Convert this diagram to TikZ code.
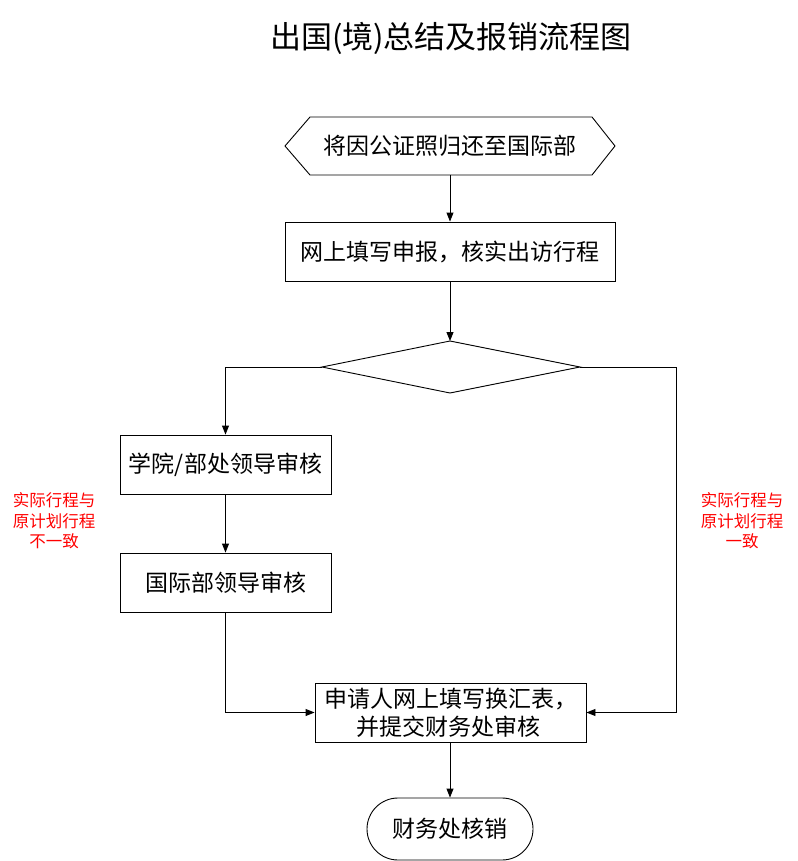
\documentclass[tikz,border=0pt]{standalone}
\usepackage{fontspec}
\setmainfont{Noto Sans CJK SC}
\usetikzlibrary{arrows.meta,shapes.geometric,shapes.misc}
\begin{document}
\begin{tikzpicture}[x=1pt,y=-1pt,
  line width=0.9pt,
  arr/.style={-{Triangle[length=9pt,width=7pt]}},
  procbox/.style={draw, minimum width=#1, minimum height=59pt, inner sep=0pt, font=\fontsize{23}{28}\selectfont},
  redlbl/.style={text=red, align=center, font=\fontsize{16.5}{20.5}\selectfont}
  ]
\useasboundingbox (0,0) rectangle (797,861);
\node[font=\fontsize{31}{36}\selectfont] (title) at (451,38) {出国(境)总结及报销流程图};
% hexagon
\coordinate (h1) at (285,146);
\coordinate (h2) at (310,117);
\coordinate (h3) at (592,117);
\coordinate (h4) at (615,146);
\coordinate (h5) at (592,175);
\coordinate (h6) at (310,175);
\draw (h1) -- (h2) -- (h3) -- (h4) -- (h5) -- (h6) -- cycle;
\node[font=\fontsize{23}{28}\selectfont] (hex) at (450,146) {将因公证照归还至国际部};
\coordinate (hexb) at (450,175);
% box2
\node[procbox=330pt] (b2) at (450,251.5) {网上填写申报，核实出访行程};
% diamond
\coordinate (dt) at (450,341);
\coordinate (dl) at (322,367);
\coordinate (dr) at (580,367);
\coordinate (db) at (450,393);
\draw (dt) -- (dr) -- (db) -- (dl) -- cycle;
% box3, box4
\node[procbox=211pt] (b3) at (225.5,464.5) {学院/部处领导审核};
\node[procbox=211pt] (b4) at (225.5,582.5) {国际部领导审核};
% box5
\node[procbox=271pt, align=left, font=\fontsize{23}{28}\selectfont] (b5) at (450.5,712.5) {申请人网上填写换汇表，\\\hspace*{32pt}并提交财务处审核};
\coordinate (b5b) at (450,742);
% terminal
\node[draw, rounded rectangle, minimum width=166pt, minimum height=62pt, inner sep=0pt, font=\fontsize{23}{28}\selectfont] (term) at (450,829) {财务处核销};
% connectors
\draw[arr] (hexb) -- (b2.north);
\draw[arr] (b2.south) -- (dt);
\draw[arr] (dl) -| (b3.north);
\draw[arr] (b3.south) -- (b4.north);
\draw[arr] (b4.south) |- (b5.west);
\draw[arr] (dr) -- (676,367) |- (b5.east);
\draw[arr] (b5b) -- (term.north);
% labels
\node[redlbl] (lblL) at (54,521) {实际行程与\\原计划行程\\不一致};
\node[redlbl] (lblR) at (742,521) {实际行程与\\原计划行程\\一致};
\end{tikzpicture}
\end{document}
